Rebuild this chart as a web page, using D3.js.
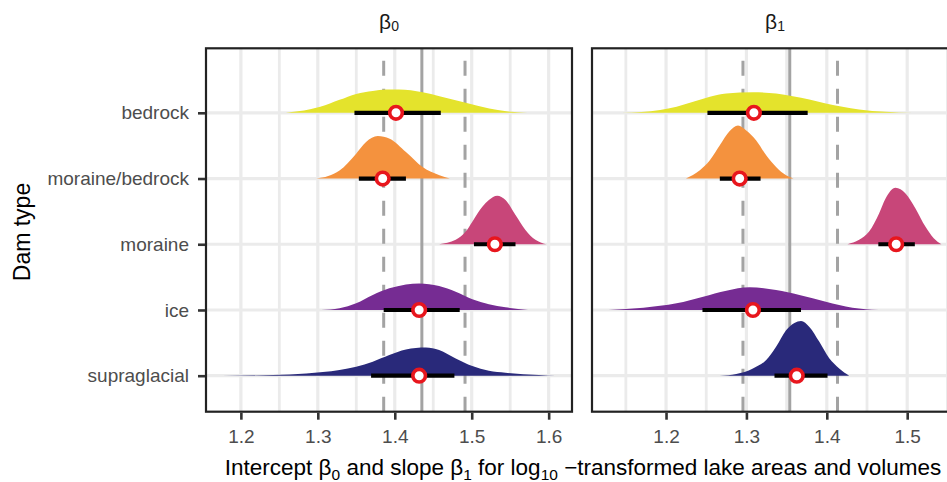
<!DOCTYPE html>
<html>
<head>
<meta charset="utf-8">
<script src="https://cdn.jsdelivr.net/npm/d3@7"></script>
<style>
  html, body { margin: 0; padding: 0; background: #fff; }
  svg { display: block; overflow: hidden; }
  text { font-family: "Liberation Sans", Arial, sans-serif; }
</style>
</head>
<body>
<div id="chart"></div>
<script>
// dam types, top to bottom
const damTypes = ["bedrock", "moraine/bedrock", "moraine", "ice", "supraglacial"];
const damColors = ["#e4e32c", "#f4923e", "#c84679", "#762c93", "#29297a"];

// posterior medians and 66% intervals, per dam type
const medianB0 = [1.4016, 1.3843, 1.5301, 1.4317, 1.4317];
const lowerB0 = [1.3476, 1.3533, 1.5029, 1.3856, 1.3692];
const upperB0 = [1.4598, 1.4145, 1.5569, 1.4844, 1.4775];
const medianB1 = [1.3093, 1.2916, 1.4863, 1.3081, 1.3626];
const lowerB1 = [1.2515, 1.2669, 1.4641, 1.2453, 1.3349];
const upperB1 = [1.3762, 1.3176, 1.5095, 1.3679, 1.4009];

// pooled estimate: lower, mean, upper
const refB0 = [1.3856, 1.4352, 1.4913];
const refB1 = [1.2957, 1.3539, 1.4133];

// posterior densities [value, scaled density]
const densB0 = [
  [[1.2583, 0], [1.29, 3.5], [1.3032, 6], [1.3282, 13], [1.3498, 19], [1.3714, 22], [1.3886, 23.5], [1.4054, 23.5],
   [1.4361, 20.7], [1.4581, 16.7], [1.4922, 10], [1.5228, 4.4], [1.545, 1.5], [1.572, 0]],
  [[1.298, 0], [1.3135, 2.5], [1.3282, 8], [1.3498, 25], [1.3627, 36.6], [1.3779, 42.6], [1.3934, 40],
   [1.4145, 26.6], [1.4361, 11.6], [1.4581, 3.3], [1.4715, 0]],
  [[1.4576, 0], [1.4792, 4.4], [1.4922, 12.7], [1.5008, 22.7], [1.5138, 37.7], [1.5223, 44.4], [1.5332, 48.7],
   [1.5439, 44.4], [1.5569, 29.4], [1.5698, 14.4], [1.5828, 4.4], [1.5966, 0]],
  [[1.3045, 0], [1.3282, 1.7], [1.3498, 6.7], [1.3714, 15], [1.3929, 21.7], [1.4145, 25.7], [1.4317, 26.7],
   [1.4576, 24], [1.4792, 18.3], [1.5008, 10.7], [1.5223, 5.7], [1.5439, 2.7], [1.5733, 0]],
  [[1.1763, 0], [1.2419, 0.7], [1.285, 2.3], [1.3282, 5.7], [1.3498, 9], [1.3714, 14], [1.3929, 20.7],
   [1.4145, 26.3], [1.4404, 28.3], [1.4576, 25.7], [1.4792, 17.3], [1.5008, 9.7], [1.5223, 5], [1.5439, 3],
   [1.5871, 0.7], [1.6087, 0]]
];
const densB1 = [
  [[1.145, 0], [1.1694, 0.8], [1.1926, 2.7], [1.2131, 6], [1.2338, 11], [1.2545, 16], [1.275, 19.4], [1.3081, 20.7],
   [1.3369, 19.4], [1.3576, 16.7], [1.3783, 13.4], [1.3988, 9.4], [1.4195, 6], [1.4402, 3.4], [1.4731, 1], [1.5062, 0]],
  [[1.2248, 0], [1.2421, 8.3], [1.2545, 18.3], [1.2669, 33.3], [1.2792, 47.6], [1.2895, 53.3], [1.2998, 48.3],
   [1.3122, 38.3], [1.3246, 23.3], [1.3369, 11.6], [1.3493, 3.3], [1.3585, 0]],
  [[1.4257, 0], [1.4402, 4.4], [1.4526, 12.7], [1.465, 31], [1.4731, 46], [1.4855, 56.7], [1.4979, 51],
   [1.5103, 36], [1.5226, 17.7], [1.533, 6], [1.5425, 0]],
  [[1.1286, 0], [1.1719, 2.3], [1.2131, 6.7], [1.2462, 13.3], [1.275, 19.3], [1.304, 22.7], [1.3369, 20],
   [1.3659, 15], [1.3988, 8.3], [1.4319, 2.3], [1.4641, 0]],
  [[1.2669, 0], [1.2874, 1.7], [1.3081, 7.3], [1.3246, 15.7], [1.3369, 29], [1.3493, 45.7], [1.3597, 53],
   [1.3679, 55], [1.3783, 49], [1.3907, 34], [1.403, 17.4], [1.4154, 7.3], [1.4278, 0]]
];

const panels = [
  {sub: "0", med: medianB0, lo: lowerB0, hi: upperB0, ref: refB0, dens: densB0},
  {sub: "1", med: medianB1, lo: lowerB1, hi: upperB1, ref: refB1, dens: densB1}
];

const width = 947, height = 482;
const panelW = 366, panelTop = 48.3, panelBottom = 411.7;
const panelLeft = [206, 592];
const gridCol = "#ebebeb", refCol = "#a3a3a3";

const svg = d3.select("#chart").append("svg")
    .attr("width", width)
    .attr("height", height);

const y = d3.scalePoint()
    .domain(damTypes)
    .range([panelTop + 64.5, panelBottom - 36]);
const dens = d3.scaleLinear().domain([0, 66]).range([0, y.step()]);

panels.forEach((p, pi) => {
    // free x scale: data extent plus 5% each side
    const all = p.dens.flat().map(d => d[0]);
    const ext = d3.extent(all);
    const pad = (ext[1] - ext[0]) * 0.05;
    const x = d3.scaleLinear()
        .domain([ext[0] - pad, ext[1] + pad])
        .range([0, panelW]);
    const ticks = x.ticks(5);
    const step = ticks[1] - ticks[0];
    const minor = d3.range(ticks[0] - step / 2, x.domain()[1], step).filter(v => v > x.domain()[0]);

    const g = svg.append("g").attr("transform", `translate(${panelLeft[pi]},0)`);

    g.selectAll(".minor").data(minor).enter().append("line")
        .attr("x1", d => x(d)).attr("x2", d => x(d))
        .attr("y1", panelTop).attr("y2", panelBottom)
        .attr("stroke", gridCol).attr("stroke-width", 2.8);
    g.selectAll(".major").data(ticks).enter().append("line")
        .attr("x1", d => x(d)).attr("x2", d => x(d))
        .attr("y1", panelTop).attr("y2", panelBottom)
        .attr("stroke", gridCol).attr("stroke-width", 3.2);
    g.selectAll(".hgrid").data(damTypes).enter().append("line")
        .attr("x1", 0).attr("x2", panelW)
        .attr("y1", d => y(d)).attr("y2", d => y(d))
        .attr("stroke", gridCol).attr("stroke-width", 3.2);

    // reference lines, drawn bottom up so dashes start at the axis
    g.selectAll(".ref").data(p.ref).enter().append("line")
        .attr("x1", d => x(d)).attr("x2", d => x(d))
        .attr("y1", panelBottom).attr("y2", panelTop)
        .attr("stroke", refCol).attr("stroke-width", 3)
        .attr("stroke-dasharray", (d, i) => i === 1 ? null : "15,13");

    damTypes.forEach((t, i) => {
        const row = y(t);
        const area = d3.area()
            .x(d => x(d[0]))
            .y0(row)
            .y1(d => row - dens(d[1]))
            .curve(d3.curveMonotoneX);
        g.append("path")
            .attr("d", area(p.dens[i]))
            .attr("fill", damColors[i]);
    });

    g.selectAll(".interval").data(damTypes).enter().append("line")
        .attr("x1", (d, i) => x(p.lo[i])).attr("x2", (d, i) => x(p.hi[i]))
        .attr("y1", d => y(d)).attr("y2", d => y(d))
        .attr("stroke", "#000").attr("stroke-width", 4.2);

    g.selectAll(".med").data(damTypes).enter().append("circle")
        .attr("cx", (d, i) => x(p.med[i]))
        .attr("cy", d => y(d))
        .attr("r", 6.3)
        .attr("fill", "#fff")
        .attr("stroke", "#e8161d")
        .attr("stroke-width", 3.6);

    g.append("rect")
        .attr("x", 0).attr("y", panelTop)
        .attr("width", panelW).attr("height", panelBottom - panelTop)
        .attr("fill", "none").attr("stroke", "#222").attr("stroke-width", 2.2);

    const xAxis = g.append("g")
        .attr("transform", `translate(0,${panelBottom + 1})`)
        .call(d3.axisBottom(x).tickValues(ticks).tickSize(7).tickPadding(10).tickFormat(d3.format(".1f")));
    xAxis.select(".domain").remove();
    xAxis.selectAll(".tick line").attr("stroke", "#333").attr("stroke-width", 2.6);
    xAxis.selectAll(".tick text").attr("font-size", 19).attr("fill", "#4d4d4d")
        .attr("font-family", "Liberation Sans, Arial, sans-serif");

    if (pi === 0) {
        const yAxis = g.append("g")
            .attr("transform", "translate(-1,0)")
            .call(d3.axisLeft(y).tickSize(7).tickPadding(9));
        yAxis.select(".domain").remove();
        yAxis.selectAll(".tick line").attr("stroke", "#333").attr("stroke-width", 2.6);
        yAxis.selectAll(".tick text").attr("font-size", 19).attr("fill", "#4d4d4d")
            .attr("font-family", "Liberation Sans, Arial, sans-serif");
    }

    // strip label
    const strip = g.append("text")
        .attr("x", panelW / 2).attr("y", 29)
        .attr("text-anchor", "middle")
        .attr("font-size", 21).attr("fill", "#1a1a1a");
    strip.append("tspan").text("β");
    strip.append("tspan").attr("font-size", 14).attr("dy", 2).text(p.sub);
});

// axis titles
svg.append("text")
    .attr("transform", "translate(30,232) rotate(-90)")
    .attr("text-anchor", "middle")
    .attr("font-size", 23).attr("fill", "#000")
    .text("Dam type");

const title = svg.append("text")
    .attr("x", 583).attr("y", 475)
    .attr("text-anchor", "middle")
    .attr("font-size", 22.5).attr("fill", "#000");
title.append("tspan").text("Intercept β");
title.append("tspan").attr("font-size", 15.5).attr("dy", 5).text("0");
title.append("tspan").attr("dy", -5).text(" and slope β");
title.append("tspan").attr("font-size", 15.5).attr("dy", 5).text("1");
title.append("tspan").attr("dy", -5).text(" for log");
title.append("tspan").attr("font-size", 15.5).attr("dy", 5).text("10");
title.append("tspan").attr("dy", -5).text(" −transformed lake areas and volumes");

// keep the title inside the 947 px frame
const tw = title.node().getComputedTextLength();
if (tw > 720) title.attr("textLength", 720).attr("lengthAdjust", "spacingAndGlyphs");
</script>
</body>
</html>
